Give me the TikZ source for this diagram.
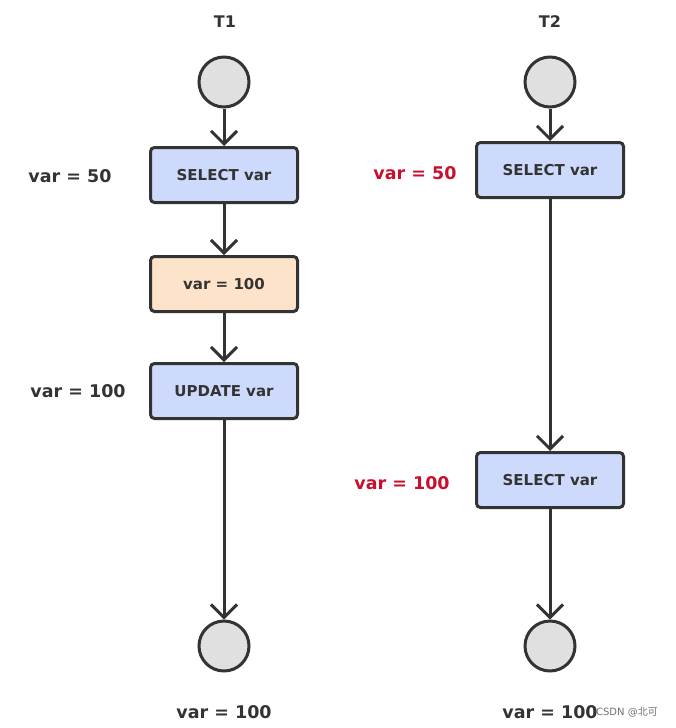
\documentclass[tikz,border=0pt]{standalone}
\usepackage{fontspec}
\setmainfont{DejaVu Sans}
\newfontfamily\cjkfont{Noto Sans CJK SC}
\usetikzlibrary{arrows.meta}
\definecolor{ink}{HTML}{333333}
\definecolor{boxblue}{HTML}{CDDAFB}
\definecolor{boxorange}{HTML}{FDE3CA}
\definecolor{circfill}{HTML}{E0E0E0}
\definecolor{redlab}{HTML}{C8102E}
\tikzset{
  stepbox/.style={draw=ink, line width=3pt, rounded corners=4pt, fill=boxblue,
    minimum width=147pt, minimum height=55pt, inner sep=0pt,
    font=\bfseries\fontsize{15}{18}\selectfont, text=ink},
  assignbox/.style={stepbox, fill=boxorange},
  statecirc/.style={draw=ink, line width=3pt, circle, fill=circfill, minimum size=50pt, inner sep=0pt},
  flow/.style={draw=ink, line width=3pt, -{Straight Barb[length=13pt,width=26pt,line width=3pt]}},
  varlab/.style={font=\bfseries\fontsize{17.5}{20}\selectfont, text=ink},
  redvar/.style={varlab, text=redlab},
  title/.style={font=\bfseries\fontsize{16}{19}\selectfont, text=ink}
}
\begin{document}
\begin{tikzpicture}[x=1pt,y=-1pt]
\useasboundingbox (0,0) rectangle (675,728);
% titles
\node[title] (t1) at (225,22) {T1};
\node[title] (t2) at (550,22) {T2};
% T1 column
\node[statecirc] (s1) at (224,82) {};
\node[stepbox] (sel1) at (224,175) {SELECT var};
\node[assignbox] (asg) at (224,284) {var = 100};
\node[stepbox] (upd) at (224,391) {UPDATE var};
\node[statecirc] (e1) at (224,646) {};
% T2 column
\node[statecirc] (s2) at (550,82) {};
\node[stepbox] (sel2) at (550,170) {SELECT var};
\node[stepbox] (sel3) at (550,480) {SELECT var};
\node[statecirc] (e2) at (550,646) {};
% connectors
\draw[flow] (s1) -- (sel1);
\draw[flow] (sel1) -- (asg);
\draw[flow] (asg) -- (upd);
\draw[flow] (upd) -- (e1);
\draw[flow] (s2) -- (sel2);
\draw[flow] (sel2) -- (sel3);
\draw[flow] (sel3) -- (e2);
% labels
\node[varlab] (l1) at (70,176) {var = 50};
\node[varlab] (l2) at (78,391) {var = 100};
\node[redvar] (l3) at (415,173) {var = 50};
\node[redvar] (l4) at (402,483) {var = 100};
\node[varlab] (b1) at (224,712) {var = 100};
\node[varlab] (b2) at (550,712) {var = 100};
\node[font=\fontsize{10}{11}\selectfont, text=ink!70] (wm) at (627,712) {CSDN @{\cjkfont 北可}};
\end{tikzpicture}
\end{document}
